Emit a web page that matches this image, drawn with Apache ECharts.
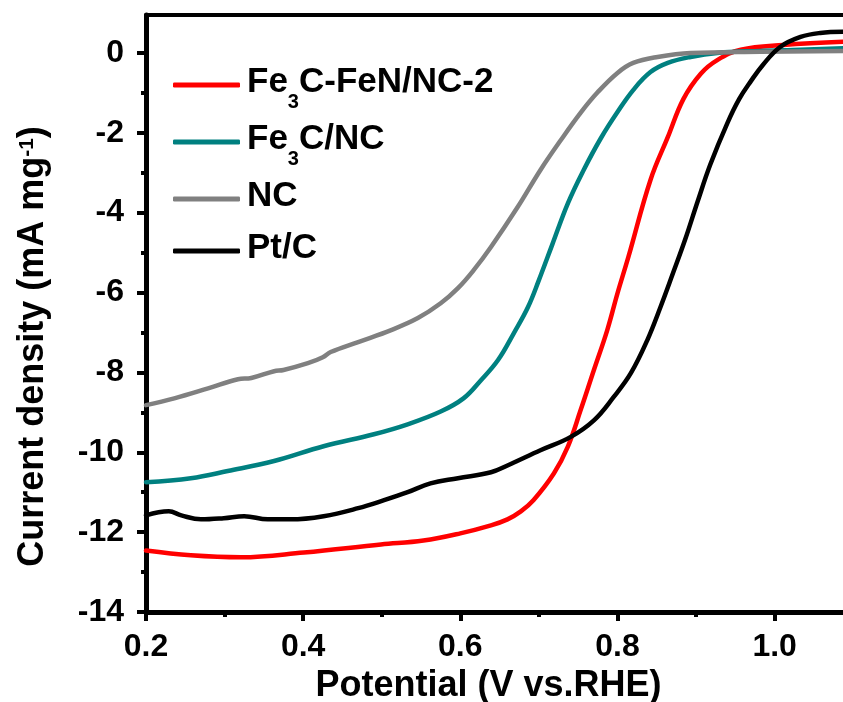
<!DOCTYPE html>
<html>
<head>
<meta charset="utf-8">
<script src="https://cdn.jsdelivr.net/npm/echarts@6/dist/echarts.min.js"></script>
<style>
html, body { margin: 0; padding: 0; background: #fff; }
#chart { width: 843px; height: 702px; }
</style>
</head>
<body>
<div id="chart"></div>
<script>
// Axis ticks
const xTicks = [0.2, 0.4, 0.6, 0.8, 1.0];
const xMinorTicks = [0.3, 0.5, 0.7, 0.9];
const yTicks = [-14, -12, -10, -8, -6, -4, -2, 0];
const yMinorTicks = [-13, -11, -9, -7, -5, -3, -1];

// Series names
const seriesNames = ['Fe3C-FeN/NC-2', 'Fe3C/NC', 'NC', 'Pt/C'];

// LSV curves: potential (V vs. RHE) and current density (mA mg^-1)
const potFeCFeN = [0.2, 0.257, 0.321, 0.401, 0.499, 0.553, 0.600, 0.639, 0.660, 0.677, 0.693, 0.719, 0.737, 0.753, 0.770, 0.787, 0.800, 0.814, 0.842, 0.864, 0.884, 0.906, 0.927, 0.957, 1.011, 1.087];
const curFeCFeN = [-12.46, -12.58, -12.63, -12.51, -12.31, -12.21, -12.03, -11.83, -11.68, -11.48, -11.20, -10.53, -9.85, -8.95, -7.94, -6.94, -6.02, -5.10, -3.18, -2.11, -1.15, -0.52, -0.18, 0.08, 0.20, 0.28];

const potFeC = [0.2, 0.257, 0.304, 0.363, 0.426, 0.490, 0.533, 0.575, 0.604, 0.626, 0.648, 0.668, 0.686, 0.700, 0.717, 0.737, 0.757, 0.779, 0.800, 0.820, 0.842, 0.864, 0.893, 0.927, 0.982, 1.033, 1.087];
const curFeC = [-10.75, -10.65, -10.47, -10.22, -9.85, -9.55, -9.30, -8.98, -8.65, -8.20, -7.69, -7.02, -6.37, -5.69, -4.80, -3.76, -2.93, -2.13, -1.48, -0.93, -0.48, -0.25, -0.10, 0.00, 0.05, 0.08, 0.12];

const potNC = [0.2, 0.236, 0.279, 0.317, 0.334, 0.363, 0.375, 0.406, 0.425, 0.435, 0.470, 0.512, 0.546, 0.575, 0.597, 0.617, 0.639, 0.673, 0.702, 0.728, 0.753, 0.775, 0.800, 0.820, 0.851, 0.893, 0.982, 1.087];
const curNC = [-8.82, -8.65, -8.40, -8.17, -8.14, -7.97, -7.94, -7.77, -7.62, -7.49, -7.24, -6.94, -6.64, -6.27, -5.89, -5.44, -4.86, -3.86, -2.93, -2.18, -1.50, -0.98, -0.50, -0.25, -0.10, 0.00, 0.03, 0.05];

const potPtC = [0.2, 0.229, 0.245, 0.270, 0.299, 0.325, 0.355, 0.384, 0.426, 0.470, 0.503, 0.533, 0.562, 0.597, 0.639, 0.660, 0.702, 0.740, 0.770, 0.795, 0.817, 0.838, 0.855, 0.870, 0.886, 0.902, 0.918, 0.940, 0.955, 0.970, 0.985, 1.007, 1.033, 1.058, 1.087];
const curPtC = [-11.58, -11.48, -11.58, -11.68, -11.65, -11.60, -11.68, -11.68, -11.60, -11.40, -11.20, -11.00, -10.78, -10.65, -10.50, -10.33, -9.95, -9.62, -9.20, -8.62, -8.02, -7.19, -6.35, -5.55, -4.68, -3.72, -2.80, -1.75, -1.15, -0.70, -0.30, 0.15, 0.40, 0.50, 0.53];

const seriesColors = ['#ff0000', '#008080', '#808080', '#000000'];

const FONT = '"Liberation Sans", Arial, Helvetica, sans-serif';
const X_MIN = 0.2, X_MAX = 1.087, Y_MIN = -14, Y_MAX = 0.95;

const pairs = (xs, ys) => xs.map((x, i) => [x, ys[i]]);
const curves = [
  pairs(potFeCFeN, curFeCFeN),
  pairs(potFeC, curFeC),
  pairs(potNC, curNC),
  pairs(potPtC, curPtC)
];

// Legend labels with subscripted "3"
const legendLabels = {
  'Fe3C-FeN/NC-2': '{f|Fe}{s|3}{n|C-FeN/NC-2}',
  'Fe3C/NC': '{f|Fe}{s|3}{n|C/NC}',
  'NC': '{f|NC}',
  'Pt/C': '{f|Pt/C}'
};

const baseText = { fontFamily: FONT, fontWeight: 'bold', color: '#000' };
const axisLineStyle = { color: '#000', width: 5 };
const tickLineStyle = { color: '#000', width: 4 };

const chart = echarts.init(document.getElementById('chart'), null, { renderer: 'canvas' });

chart.setOption({
  backgroundColor: '#ffffff',
  animation: false,
  grid: { left: 146, top: 15, right: 0, bottom: 90, containLabel: false, outerBoundsMode: 'none' },
  legend: {
    orient: 'vertical',
    left: 168,
    top: 60,
    itemWidth: 67,
    itemHeight: 5,
    itemGap: 10,
    icon: 'roundRect',
    selectedMode: false,
    data: seriesNames,
    formatter: name => legendLabels[name],
    textStyle: {
      ...baseText,
      fontSize: 35,
      rich: {
        f: { ...baseText, fontSize: 35, lineHeight: 40, verticalAlign: 'top', padding: [0, 0, 7, 2] },
        n: { ...baseText, fontSize: 35, lineHeight: 40, verticalAlign: 'top', padding: [0, 0, 7, 0] },
        s: { ...baseText, fontSize: 20, lineHeight: 20, verticalAlign: 'top', padding: [27, 0, 0, 0] }
      }
    }
  },
  xAxis: [
    {
      type: 'value', min: X_MIN, max: X_MAX, position: 'bottom',
      axisLine: { onZero: false, lineStyle: axisLineStyle },
      axisTick: { customValues: xTicks, length: 9, lineStyle: tickLineStyle },
      axisLabel: { customValues: xTicks, margin: 19, formatter: v => v.toFixed(1), ...baseText, fontSize: 32 },
      splitLine: { show: false },
      name: 'Potential (V vs.RHE)',
      nameLocation: 'middle',
      nameGap: 55,
      nameTextStyle: { ...baseText, fontSize: 36, padding: [0, 12, 0, 0] }
    },
    {
      type: 'value', min: X_MIN, max: X_MAX, position: 'bottom',
      axisLine: { show: false, onZero: false },
      axisTick: { customValues: xMinorTicks, length: 5, lineStyle: tickLineStyle },
      axisLabel: { show: false },
      splitLine: { show: false }
    },
    {
      type: 'value', min: X_MIN, max: X_MAX, position: 'top',
      axisLine: { onZero: false, lineStyle: { color: '#000', width: 4 } },
      axisTick: { show: false },
      axisLabel: { show: false },
      splitLine: { show: false }
    }
  ],
  yAxis: [
    {
      type: 'value', min: Y_MIN, max: Y_MAX, position: 'left',
      axisLine: { onZero: false, lineStyle: axisLineStyle },
      axisTick: { customValues: yTicks, length: 9, lineStyle: tickLineStyle },
      axisLabel: { customValues: yTicks, margin: 22, ...baseText, fontSize: 32 },
      splitLine: { show: false },
      name: '{t|Current density (mA mg}{p|-1}{t|)}',
      nameLocation: 'middle',
      nameRotate: 90,
      nameGap: 95,
      nameTextStyle: {
        ...baseText,
        fontSize: 36,
        padding: [0, 66, 0, 0],
        rich: {
          t: { ...baseText, fontSize: 36, lineHeight: 40, verticalAlign: 'bottom', padding: [7, 0, 0, 0] },
          p: { ...baseText, fontSize: 21, lineHeight: 20, verticalAlign: 'top', padding: [6, 0, 21, 0] }
        }
      }
    },
    {
      type: 'value', min: Y_MIN, max: Y_MAX, position: 'left',
      axisLine: { show: false, onZero: false },
      axisTick: { customValues: yMinorTicks, length: 5, lineStyle: tickLineStyle },
      axisLabel: { show: false },
      splitLine: { show: false }
    }
  ],
  series: seriesNames.map((name, i) => ({
    name,
    type: 'line',
    xAxisIndex: 0,
    yAxisIndex: 0,
    data: curves[i],
    showSymbol: false,
    symbol: 'none',
    smooth: 0.4,
    color: seriesColors[i],
    lineStyle: { color: seriesColors[i], width: 4.5, cap: 'round', join: 'round' },
    emphasis: { disabled: true }
  }))
});
</script>
</body>
</html>
